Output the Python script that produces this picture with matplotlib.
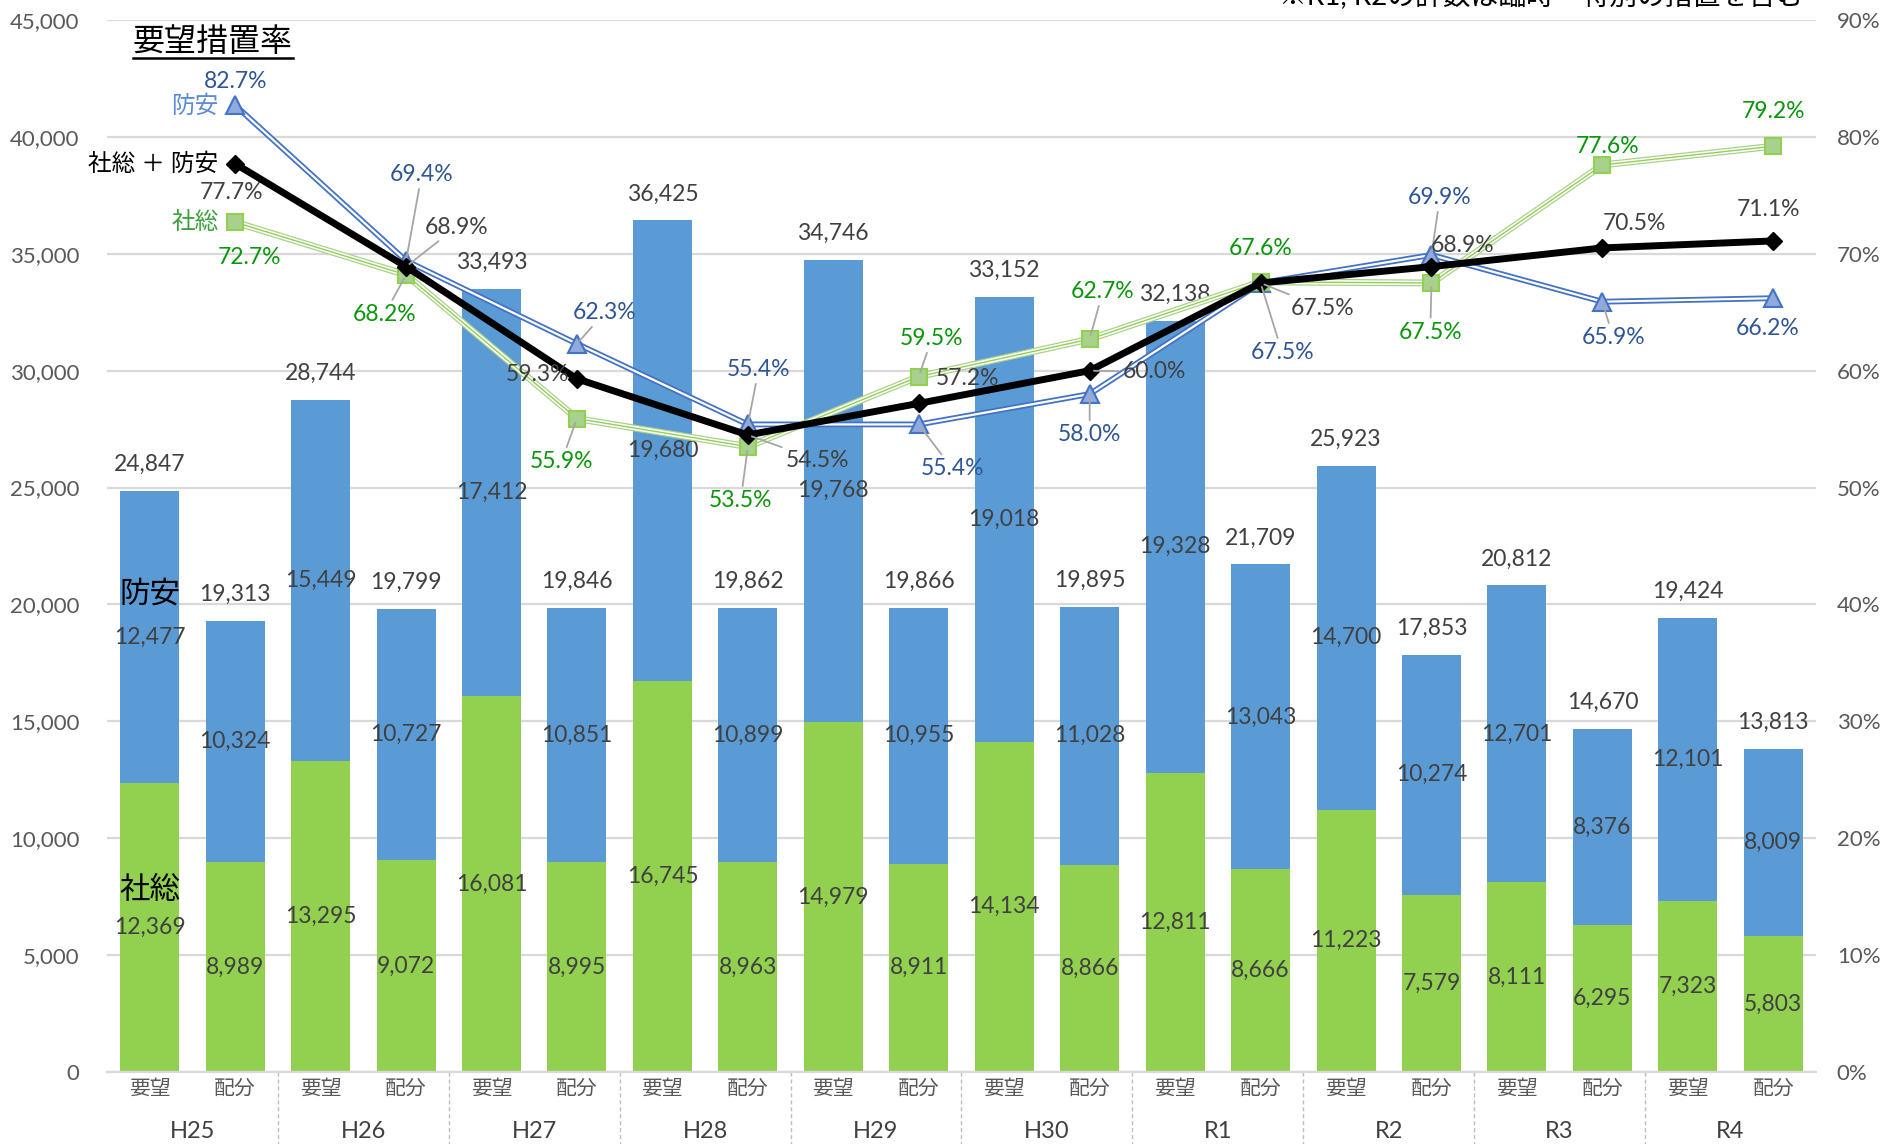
import numpy as np
import matplotlib
matplotlib.use('Agg')
import matplotlib.pyplot as plt
import matplotlib.transforms as mtransforms
from matplotlib.lines import Line2D

plt.rcParams['font.family'] = ['Lato', 'Noto Sans CJK JP', 'DejaVu Sans']

years = ['H25', 'H26', 'H27', 'H28', 'H29', 'H30', 'R1', 'R2', 'R3', 'R4']

# 要望 (request) and 配分 (allocation), split into 社総 / 防安
req_shaso = [12369, 13295, 16081, 16745, 14979, 14134, 12811, 11223, 8111, 7323]
req_boan = [12477, 15449, 17412, 19680, 19768, 19018, 19328, 14700, 12701, 12101]
req_total = [24847, 28744, 33493, 36425, 34746, 33152, 32138, 25923, 20812, 19424]
alloc_shaso = [8989, 9072, 8995, 8963, 8911, 8866, 8666, 7579, 6295, 5803]
alloc_boan = [10324, 10727, 10851, 10899, 10955, 11028, 13043, 10274, 8376, 8009]
alloc_total = [19313, 19799, 19846, 19862, 19866, 19895, 21709, 17853, 14670, 13813]

# 要望措置率 (%)
rate_boan = [82.7, 69.4, 62.3, 55.4, 55.4, 58.0, 67.5, 69.9, 65.9, 66.2]
rate_shaso = [72.7, 68.2, 55.9, 53.5, 59.5, 62.7, 67.6, 67.5, 77.6, 79.2]
rate_all = [77.7, 68.9, 59.3, 54.5, 57.2, 60.0, 67.5, 68.9, 70.5, 71.1]

# label offsets (px at reduced scale, y down) and whether a leader line is drawn
off_boan = [(0, -20, 0), (13, -72, 1), (23, -26, 1), (9, -46, 1), (28, 37, 1),
             (0, 34, 1), (18, 58, 1), (7, -48, 1), (9, 30, 1), (-5, 25, 0)]
off_shaso = [(12, 29, 0), (-18, 33, 1), (-13, 36, 1), (-6, 45, 1), (11, -32, 1),
              (11, -40, 1), (0, -28, 0), (-1, 41, 1), (4, -15, 0), (0, -29, 0)]
off_all = [(-3, 24, 0), (42, -33, 1), (-33, -4, 0), (58, 21, 1), (41, -21, 0),
           (54, 1, 1), (52, 21, 1), (26, -18, 0), (27, -20, 0), (-4, -26, 0)]
K = 0.8647  # reduced px -> points

BLUE = '#5B9BD5'
GREEN = '#92D050'
GRID = '#D9D9D9'
TXT = '#404040'
TICK = '#595959'

fig = plt.figure(figsize=(18.83, 11.44), dpi=100)
ax = fig.add_axes([107 / 1883, 1 - 1072 / 1144, 1709 / 1883, 1052 / 1144])

n = len(years)
xr = np.arange(n) * 2
xa = xr + 1
w = 0.69

ax.bar(xr, req_shaso, w, color=GREEN, zorder=2)
ax.bar(xr, req_boan, w, bottom=req_shaso, color=BLUE, zorder=2)
ax.bar(xa, alloc_shaso, w, color=GREEN, zorder=2)
ax.bar(xa, alloc_boan, w, bottom=alloc_shaso, color=BLUE, zorder=2)

fs = 16.5
for i in range(n):
    for x, g, b, t in [(xr[i], req_shaso[i], req_boan[i], req_total[i]),
                       (xa[i], alloc_shaso[i], alloc_boan[i], alloc_total[i])]:
        ax.text(x, g / 2, f'{g:,}', ha='center', va='center', fontsize=fs, color=TXT, zorder=5)
        ax.text(x, g + b / 2, f'{b:,}', ha='center', va='center', fontsize=fs, color=TXT, zorder=5)
        ax.annotate(f'{t:,}', (x, t), xytext=(0, 19), textcoords='offset points',
                    ha='center', va='center', fontsize=fs, color=TXT, zorder=5)

ax.annotate('防安', (xr[0], req_shaso[0] + req_boan[0] / 2), xytext=(0, 31),
            textcoords='offset points', ha='center', va='center', fontsize=22, color='black')
ax.annotate('社総', (xr[0], req_shaso[0] / 2), xytext=(0, 27),
            textcoords='offset points', ha='center', va='center', fontsize=22, color='black')

ax.set_xlim(-0.5, 2 * n - 0.5)
ax.set_ylim(0, 45000)
ax.set_yticks(np.arange(0, 45001, 5000))
ax.set_yticklabels([f'{v:,}' for v in range(0, 45001, 5000)])
ax.set_xticks(np.arange(2 * n))
ax.set_xticklabels(['要望', '配分'] * n)
ax.tick_params(axis='both', length=0, labelcolor=TICK, labelsize=16)
ax.tick_params(axis='x', pad=5, labelsize=15)
ax.tick_params(axis='y', pad=20)
ax.yaxis.grid(True, color=GRID, lw=1.6, zorder=0)
ax.set_axisbelow(True)
for s in ['top', 'left', 'right']:
    ax.spines[s].set_visible(False)
ax.spines['bottom'].set_color(GRID)
ax.spines['bottom'].set_linewidth(1.6)

# year group labels and separators
trans = mtransforms.blended_transform_factory(ax.transData, ax.transAxes)
for i, y in enumerate(years):
    ax.text(xr[i] + 0.5, -0.057, y, transform=trans, ha='center', va='center',
            fontsize=17, color=TXT)
for i in range(1, n):
    ax.add_line(Line2D([xr[i] - 0.5] * 2, [0, -0.075], transform=trans, color='#BFBFBF',
                       lw=1, ls=(0, (3, 2)), clip_on=False))

# ratio axis
ax2 = ax.twinx()
ax2.set_ylim(0, 90)
ax2.set_yticks(np.arange(0, 91, 10))
ax2.set_yticklabels([f'{v}%' for v in range(0, 91, 10)])
ax2.tick_params(axis='y', length=0, pad=15, labelcolor=TICK, labelsize=16)
for s in ax2.spines.values():
    s.set_visible(False)

# 防安: double blue line
ax2.plot(xa, rate_boan, color='#4472C4', lw=4.2, solid_joinstyle='miter', zorder=3)
ax2.plot(xa, rate_boan, color='white', lw=1.6, zorder=3.1)
ax2.plot(xa, rate_boan, ls='none', marker='^', ms=13, mfc='#8FAADC', mec='#4472C4', mew=1.5, zorder=3.2)

# 社総: triple green line
ax2.plot(xa, rate_shaso, color='#A9D18E', lw=5.0, zorder=3.3)
ax2.plot(xa, rate_shaso, color='white', lw=3.2, zorder=3.4)
ax2.plot(xa, rate_shaso, color='#92D050', lw=1.0, zorder=3.5)
ax2.plot(xa, rate_shaso, ls='none', marker='s', ms=11, mfc='#A9D18E', mec='#92D050', mew=1.5, zorder=3.6)

# 社総 + 防安
ax2.plot(xa, rate_all, color='black', lw=5, marker='D', ms=9, zorder=4)

def rate_labels(vals, offs, color):
    for x, v, (dx, dy, lead) in zip(xa, vals, offs):
        kw = {}
        if lead:
            kw['arrowprops'] = dict(arrowstyle='-', color='#A6A6A6', lw=1.3, shrinkA=1, shrinkB=3)
        ax2.annotate(f'{v:.1f}%', (x, v), xytext=(dx * K, -dy * K), textcoords='offset points',
                     ha='center', va='center', fontsize=fs, color=color, zorder=6, **kw)

rate_labels(rate_boan, off_boan, '#2F5597')
rate_labels(rate_shaso, off_shaso, '#0A960A')
rate_labels(rate_all, off_all, TXT)

# series names beside the first points
ax2.annotate('防安', (xa[0], rate_boan[0]), xytext=(-14 * K, 0), textcoords='offset points',
             ha='right', va='center', fontsize=17, color='#5B8BD5')
ax2.annotate('社総 ＋ 防安', (xa[0], rate_all[0]), xytext=(-14 * K, 0), textcoords='offset points',
             ha='right', va='center', fontsize=17, color='black')
ax2.annotate('社総', (xa[0], rate_shaso[0]), xytext=(-14 * K, 0), textcoords='offset points',
             ha='right', va='center', fontsize=17, color='#3CA03C')

# title with underline
title = fig.text(133 / 1883, 1 - 42 / 1144, '要望措置率', ha='left', va='center',
                 fontsize=23, color='black')
fig.canvas.draw()
bb = title.get_window_extent().transformed(fig.transFigure.inverted())
fig.add_artist(Line2D([bb.x0, bb.x1], [1 - 58 / 1144] * 2, transform=fig.transFigure,
                      color='black', lw=1.8))

fig.text(1804 / 1883, 1.003, '※R1, R2の計数は臨時・特別の措置を含む', ha='right', va='center',
         fontsize=20, color='black')

fig.savefig('out.png', dpi=100)
